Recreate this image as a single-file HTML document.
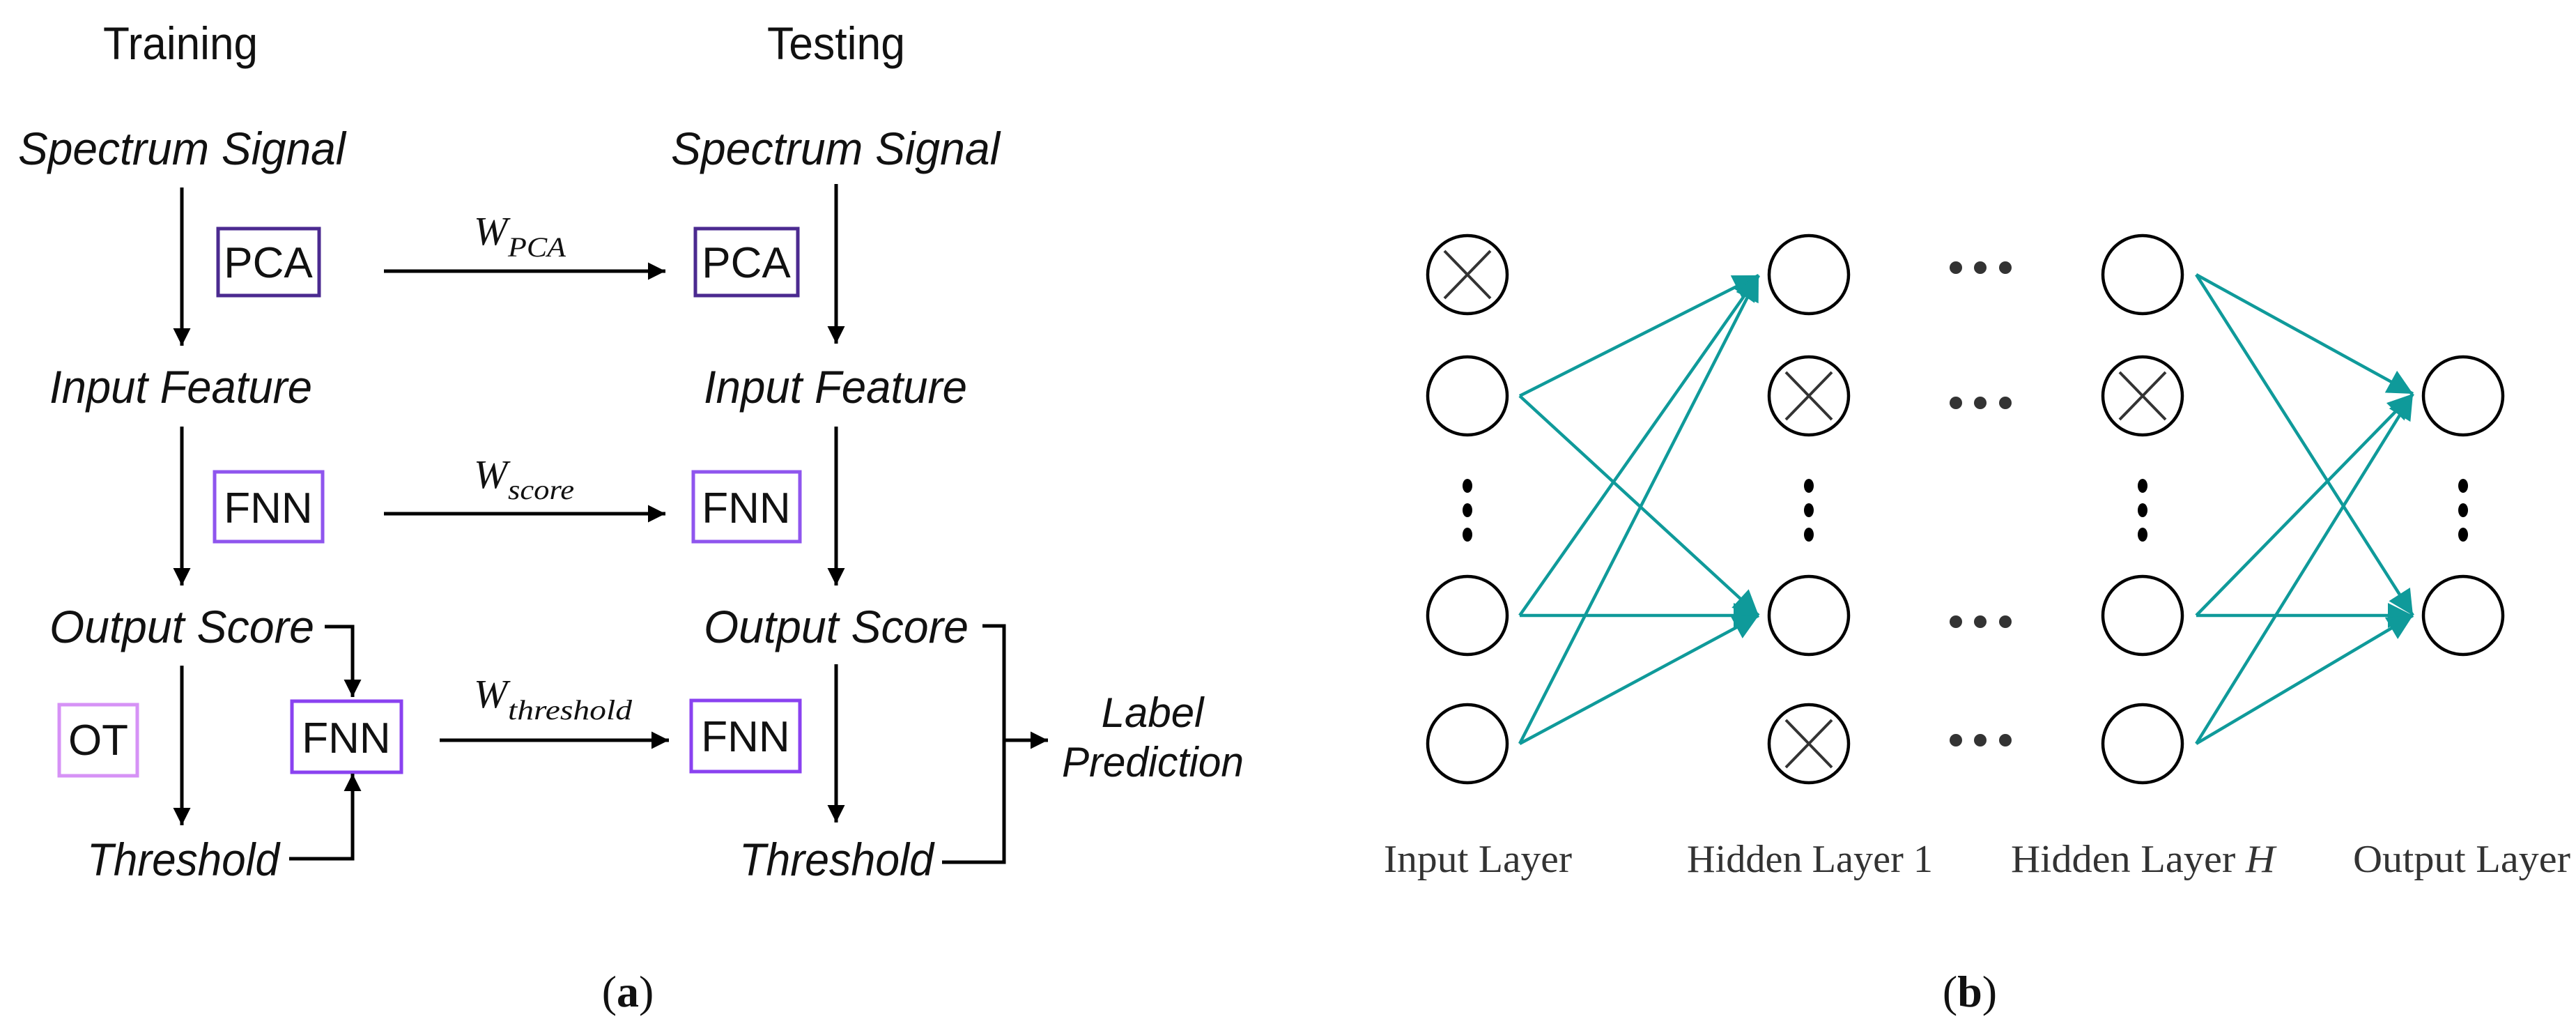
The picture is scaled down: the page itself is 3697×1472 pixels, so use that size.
<!DOCTYPE html>
<html><head><meta charset="utf-8"><style>
html,body{margin:0;padding:0;background:#fff;}
svg{display:block;}
</style></head><body>
<svg width="3697" height="1472" viewBox="0 0 3697 1472" xmlns="http://www.w3.org/2000/svg">
<defs>
<marker id="ah" viewBox="0 0 10 10" refX="10" refY="5" markerWidth="5" markerHeight="5.5" markerUnits="strokeWidth" orient="auto">
<path d="M0,0 L10,5 L0,10 z" fill="#000"/></marker>
<marker id="th" viewBox="0 0 10 10" refX="10" refY="5" markerWidth="9" markerHeight="8" markerUnits="strokeWidth" orient="auto">
<path d="M0,0 L10,5 L0,10 z" fill="#0f9a9a"/></marker>
</defs>
<g font-family="Liberation Sans, sans-serif" fill="#111">
<text x="148" y="85" font-size="66" textLength="222" lengthAdjust="spacingAndGlyphs">Training</text>
<text x="1101" y="85" font-size="66" textLength="198" lengthAdjust="spacingAndGlyphs">Testing</text>
<g font-style="italic" font-size="66">
<text x="26" y="236" textLength="470" lengthAdjust="spacingAndGlyphs">Spectrum Signal</text>
<text x="963" y="236" textLength="472" lengthAdjust="spacingAndGlyphs">Spectrum Signal</text>
<text x="71" y="578" textLength="377" lengthAdjust="spacingAndGlyphs">Input Feature</text>
<text x="1010" y="578" textLength="378" lengthAdjust="spacingAndGlyphs">Input Feature</text>
<text x="71" y="922" textLength="380" lengthAdjust="spacingAndGlyphs">Output Score</text>
<text x="1010" y="922" textLength="380" lengthAdjust="spacingAndGlyphs">Output Score</text>
<text x="125" y="1256" textLength="276" lengthAdjust="spacingAndGlyphs">Threshold</text>
<text x="1061" y="1256" textLength="279" lengthAdjust="spacingAndGlyphs">Threshold</text>
<text x="1654" y="1043" text-anchor="middle" font-size="60">Label</text>
<text x="1524" y="1114" textLength="261" lengthAdjust="spacingAndGlyphs" font-size="60">Prediction</text>
</g>
<g fill="none" stroke-width="5">
<rect x="313" y="328" width="145" height="96" stroke="#4b2a90"/>
<rect x="998" y="328" width="147" height="96" stroke="#4b2a90"/>
<rect x="308" y="677" width="155" height="100" stroke="#8f55ee"/>
<rect x="995" y="677" width="153" height="100" stroke="#8f55ee"/>
<rect x="85" y="1011" width="112" height="102" stroke="#d692f6"/>
<rect x="419" y="1006" width="157" height="102" stroke="#8a42f0"/>
<rect x="992" y="1005" width="156" height="102" stroke="#8a42f0"/>
</g>
<g font-size="62" text-anchor="middle">
<text x="385" y="398">PCA</text>
<text x="1071" y="398">PCA</text>
<text x="385" y="750">FNN</text>
<text x="1071" y="750">FNN</text>
<text x="141" y="1083">OT</text>
<text x="497" y="1080">FNN</text>
<text x="1070" y="1078">FNN</text>
</g>
<g stroke="#000" stroke-width="5" fill="none">
<line x1="261" y1="269" x2="261" y2="496" marker-end="url(#ah)"/>
<line x1="1200" y1="264" x2="1200" y2="493" marker-end="url(#ah)"/>
<line x1="261" y1="612" x2="261" y2="840" marker-end="url(#ah)"/>
<line x1="1200" y1="612" x2="1200" y2="840" marker-end="url(#ah)"/>
<line x1="261" y1="955" x2="261" y2="1184" marker-end="url(#ah)"/>
<line x1="1200" y1="953" x2="1200" y2="1180" marker-end="url(#ah)"/>
<line x1="551" y1="389" x2="955" y2="389" marker-end="url(#ah)"/>
<line x1="551" y1="737" x2="955" y2="737" marker-end="url(#ah)"/>
<line x1="631" y1="1062" x2="960" y2="1062" marker-end="url(#ah)"/>
<polyline points="466,899 506,899 506,1000" marker-end="url(#ah)"/>
<polyline points="415,1232 506,1232 506,1110" marker-end="url(#ah)"/>
<polyline points="1410,898 1441,898 1441,1237 1352,1237"/>
<line x1="1441" y1="1062" x2="1504" y2="1062" marker-end="url(#ah)"/>
</g>
<g font-family="Liberation Serif, serif" font-style="italic">
<text x="680" y="351" font-size="58">W</text><text x="729" y="368" font-size="40" textLength="83" lengthAdjust="spacingAndGlyphs">PCA</text>
<text x="680" y="700" font-size="58">W</text><text x="729" y="716" font-size="40" textLength="95" lengthAdjust="spacingAndGlyphs">score</text>
<text x="680" y="1015" font-size="58">W</text><text x="729" y="1032" font-size="40" textLength="178" lengthAdjust="spacingAndGlyphs">threshold</text>
</g>
<g font-family="Liberation Serif, serif" font-size="64" text-anchor="middle">
<text x="901" y="1444">(<tspan font-weight="bold">a</tspan>)</text>
<text x="2827" y="1444">(<tspan font-weight="bold">b</tspan>)</text>
</g>
</g>
<g fill="none" stroke="#000" stroke-width="4.5">
<ellipse cx="2106" cy="394" rx="57" ry="56"/>
<ellipse cx="2106" cy="568" rx="57" ry="56"/>
<ellipse cx="2106" cy="883" rx="57" ry="56"/>
<ellipse cx="2106" cy="1067" rx="57" ry="56"/>
<ellipse cx="2596" cy="394" rx="57" ry="56"/>
<ellipse cx="2596" cy="568" rx="57" ry="56"/>
<ellipse cx="2596" cy="883" rx="57" ry="56"/>
<ellipse cx="2596" cy="1067" rx="57" ry="56"/>
<ellipse cx="3075" cy="394" rx="57" ry="56"/>
<ellipse cx="3075" cy="568" rx="57" ry="56"/>
<ellipse cx="3075" cy="883" rx="57" ry="56"/>
<ellipse cx="3075" cy="1067" rx="57" ry="56"/>
<ellipse cx="3535" cy="568" rx="57" ry="56"/>
<ellipse cx="3535" cy="883" rx="57" ry="56"/>
</g>
<g stroke="#333" stroke-width="4">
<path d="M2073,360 L2139,428 M2139,360 L2073,428"/>
<path d="M2563,534 L2629,602 M2629,534 L2563,602"/>
<path d="M2563,1033 L2629,1101 M2629,1033 L2563,1101"/>
<path d="M3042,534 L3108,602 M3108,534 L3042,602"/>
</g>
<g fill="#000">
<ellipse cx="2106" cy="697" rx="7" ry="10"/><ellipse cx="2106" cy="732" rx="7" ry="10"/><ellipse cx="2106" cy="767" rx="7" ry="10"/>
<ellipse cx="2596" cy="697" rx="7" ry="10"/><ellipse cx="2596" cy="732" rx="7" ry="10"/><ellipse cx="2596" cy="767" rx="7" ry="10"/>
<ellipse cx="3075" cy="697" rx="7" ry="10"/><ellipse cx="3075" cy="732" rx="7" ry="10"/><ellipse cx="3075" cy="767" rx="7" ry="10"/>
<ellipse cx="3535" cy="697" rx="7" ry="10"/><ellipse cx="3535" cy="732" rx="7" ry="10"/><ellipse cx="3535" cy="767" rx="7" ry="10"/>
</g>
<g fill="#333">
<circle cx="2807" cy="384" r="9"/><circle cx="2842" cy="384" r="9"/><circle cx="2878" cy="384" r="9"/>
<circle cx="2807" cy="578" r="9"/><circle cx="2842" cy="578" r="9"/><circle cx="2878" cy="578" r="9"/>
<circle cx="2807" cy="892" r="9"/><circle cx="2842" cy="892" r="9"/><circle cx="2878" cy="892" r="9"/>
<circle cx="2807" cy="1062" r="9"/><circle cx="2842" cy="1062" r="9"/><circle cx="2878" cy="1062" r="9"/>
</g>
<g stroke="#0f9a9a" stroke-width="4.5" fill="none">
<line x1="2181" y1="568" x2="2524" y2="395" marker-end="url(#th)"/>
<line x1="2181" y1="568" x2="2524" y2="883" marker-end="url(#th)"/>
<line x1="2181" y1="883" x2="2524" y2="395" marker-end="url(#th)"/>
<line x1="2181" y1="883" x2="2524" y2="883" marker-end="url(#th)"/>
<line x1="2181" y1="1067" x2="2524" y2="395" marker-end="url(#th)"/>
<line x1="2181" y1="1067" x2="2524" y2="883" marker-end="url(#th)"/>
<line x1="3152" y1="394" x2="3463" y2="565" marker-end="url(#th)"/>
<line x1="3152" y1="394" x2="3463" y2="883" marker-end="url(#th)"/>
<line x1="3152" y1="883" x2="3463" y2="565" marker-end="url(#th)"/>
<line x1="3152" y1="883" x2="3463" y2="883" marker-end="url(#th)"/>
<line x1="3152" y1="1067" x2="3463" y2="565" marker-end="url(#th)"/>
<line x1="3152" y1="1067" x2="3463" y2="883" marker-end="url(#th)"/>
</g>
<g font-family="Liberation Serif, serif" font-size="56" fill="#333">
<text x="1986" y="1251" textLength="270" lengthAdjust="spacingAndGlyphs">Input Layer</text>
<text x="2421" y="1251" textLength="353" lengthAdjust="spacingAndGlyphs">Hidden Layer 1</text>
<text x="2886" y="1251" textLength="379" lengthAdjust="spacingAndGlyphs">Hidden Layer <tspan font-style="italic">H</tspan></text>
<text x="3377" y="1251" textLength="312" lengthAdjust="spacingAndGlyphs">Output Layer</text>
</g>
</svg>
</body></html>
